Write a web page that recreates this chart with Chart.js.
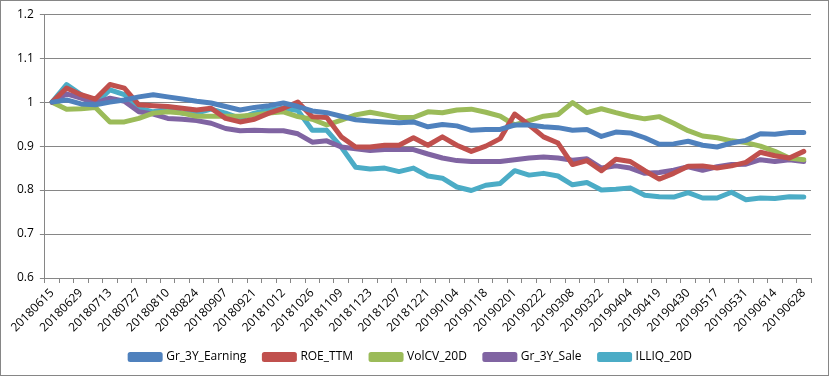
<!DOCTYPE html>
<html>
<head>
<meta charset="utf-8">
<script src="https://cdn.jsdelivr.net/npm/chart.js@4.4.0/dist/chart.umd.min.js"></script>
<style>
  body { margin: 0; background: #fff; }
  #wrap { width: 829px; height: 376px; box-sizing: border-box; border: 1px solid #868686; }
  canvas { display: block; }
</style>
</head>
<body>
<div id="wrap"><canvas id="factor-chart" width="827" height="374"></canvas></div>
<script>
// weekly dates (x categories)
var dates = ['20180615','20180622','20180629','20180706','20180713','20180720','20180727','20180803',
  '20180810','20180817','20180824','20180831','20180907','20180914','20180921','20180928','20181012',
  '20181019','20181026','20181102','20181109','20181116','20181123','20181130','20181207','20181214',
  '20181221','20181228','20190104','20190111','20190118','20190125','20190201','20190215','20190222',
  '20190301','20190308','20190315','20190322','20190329','20190404','20190412','20190419','20190426',
  '20190430','20190510','20190517','20190524','20190531','20190606','20190614','20190621','20190628'];

var gr3yEarning = [1.0,1.005,0.996,0.994,1.0,1.005,1.012,1.017,1.012,1.007,1.002,0.998,0.99,0.982,0.988,0.992,0.998,
  0.99,0.98,0.976,0.968,0.96,0.957,0.955,0.953,0.955,0.944,0.949,0.946,0.936,0.938,0.938,0.948,0.948,0.944,
  0.942,0.936,0.938,0.922,0.932,0.93,0.919,0.904,0.905,0.911,0.902,0.898,0.907,0.913,0.928,0.927,0.931,0.931];

var roeTtm = [1.0,1.032,1.017,1.007,1.04,1.032,0.994,0.992,0.99,0.986,0.982,0.986,0.963,0.955,0.961,0.975,0.986,
  1.0,0.967,0.965,0.921,0.898,0.898,0.902,0.902,0.919,0.902,0.921,0.902,0.888,0.9,0.917,0.973,0.948,0.921,
  0.907,0.858,0.867,0.844,0.87,0.865,0.844,0.825,0.838,0.854,0.855,0.85,0.855,0.863,0.886,0.878,0.873,0.888];

var volCv20d = [1.0,0.984,0.985,0.988,0.955,0.955,0.963,0.975,0.978,0.975,0.968,0.968,0.968,0.968,0.971,0.975,0.978,
  0.967,0.961,0.948,0.959,0.971,0.977,0.971,0.965,0.965,0.978,0.976,0.982,0.984,0.977,0.968,0.948,0.958,0.968,
  0.972,0.999,0.976,0.985,0.976,0.968,0.962,0.967,0.952,0.935,0.923,0.919,0.912,0.908,0.9,0.888,0.873,0.869];

var gr3ySale = [1.0,1.019,1.009,0.998,1.009,1.002,0.978,0.973,0.963,0.961,0.958,0.952,0.94,0.935,0.936,0.935,0.935,
  0.928,0.909,0.912,0.898,0.894,0.89,0.892,0.892,0.892,0.882,0.873,0.867,0.865,0.865,0.865,0.869,0.873,0.875,
  0.873,0.868,0.871,0.85,0.855,0.85,0.838,0.84,0.845,0.853,0.845,0.853,0.858,0.859,0.869,0.865,0.869,0.865];

var illiq20d = [1.0,1.04,1.017,0.996,1.028,1.017,0.986,0.978,0.984,0.975,0.975,0.984,0.975,0.963,0.975,0.982,0.986,
  0.981,0.936,0.936,0.898,0.852,0.848,0.85,0.842,0.85,0.832,0.827,0.807,0.799,0.811,0.815,0.844,0.834,0.838,
  0.832,0.812,0.817,0.8,0.802,0.805,0.788,0.785,0.784,0.794,0.782,0.782,0.795,0.778,0.782,0.781,0.785,0.784];

var seriesNames = ['Gr_3Y_Earning','ROE_TTM','VolCV_20D','Gr_3Y_Sale','ILLIQ_20D'];
var seriesColors = ['#4F81BD','#C0504D','#9BBB59','#8064A2','#4BACC6'];
var seriesData = [gr3yEarning, roeTtm, volCv20d, gr3ySale, illiq20d];

var datasets = [];
for (var i in seriesNames) {
  datasets.push({
    label: seriesNames[i],
    data: seriesData[i],
    borderColor: seriesColors[i],
    backgroundColor: seriesColors[i],
    borderWidth: 5,
    pointRadius: 0,
    tension: 0,
    borderJoinStyle: 'round',
    borderCapStyle: 'round'
  });
}

var fontFam = '"Open Sans", "Liberation Sans", sans-serif';

new Chart(document.getElementById('factor-chart'), {
  type: 'line',
  data: { labels: dates, datasets: datasets },
  options: {
    responsive: false,
    animation: false,
    layout: { padding: { left: 10, right: 17, top: 6, bottom: 2 } },
    plugins: {
      tooltip: { enabled: false },
      legend: {
        position: 'bottom',
        labels: {
          boxWidth: 30,
          boxHeight: 5,
          padding: 18,
          color: '#000',
          font: { family: fontFam, size: 12 }
        }
      }
    },
    scales: {
      x: {
        offset: true,
        // squeeze the label band a bit so the plot sits lower
        afterFit: function(scale) { scale.height = scale.height - 5; },
        grid: { offset: true, drawOnChartArea: false, drawTicks: true, tickLength: 5, color: '#868686' },
        border: { color: '#868686' },
        ticks: {
          autoSkip: false,
          minRotation: 45,
          maxRotation: 45,
          color: '#000',
          font: { family: fontFam, size: 12 },
          callback: function(v, idx) { return idx % 2 === 0 ? dates[idx] : ''; }
        }
      },
      y: {
        min: 0.6,
        max: 1.2,
        grid: { color: '#868686', tickLength: 5 },
        border: { color: '#868686' },
        ticks: {
          stepSize: 0.1,
          padding: 6,
          color: '#000',
          font: { family: fontFam, size: 12 },
          callback: function(v) { return String(Number(v.toFixed(1))); }
        }
      }
    }
  }
});
</script>
</body>
</html>
